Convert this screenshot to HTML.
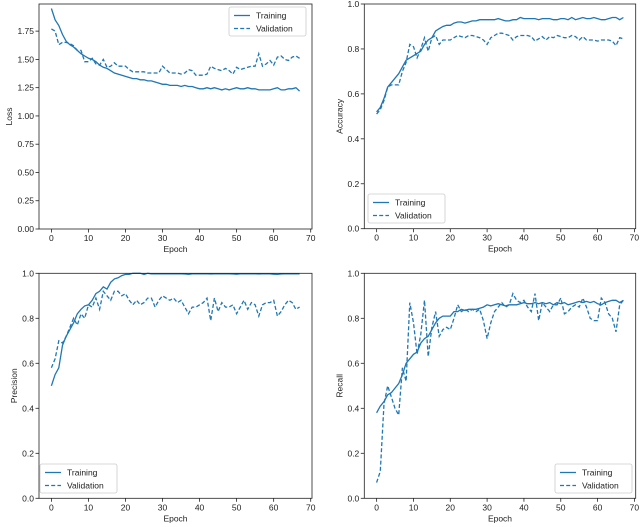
<!DOCTYPE html>
<html><head><meta charset="utf-8"><style>
body{margin:0;background:#fff}
svg{display:block;font-family:"Liberation Sans","DejaVu Sans",sans-serif}
</style></head><body>
<svg id="fig" width="640" height="527" viewBox="0 0 640 527"></svg>
<script>
const epochs = Array.from({length:68},(_,i)=>i);
const xTicks = [0,10,20,30,40,50,60,70];
const lossTicks = [0,0.25,0.5,0.75,1.0,1.25,1.5,1.75];
const unitTicks = [0,0.2,0.4,0.6,0.8,1.0];
const lossTrain = [1.95,1.85,1.80,1.72,1.66,1.63,1.61,1.58,1.55,1.53,1.51,1.50,1.48,1.45,1.43,1.42,1.40,1.38,1.37,1.36,1.35,1.34,1.33,1.33,1.32,1.32,1.31,1.31,1.30,1.29,1.28,1.28,1.27,1.27,1.27,1.26,1.27,1.26,1.26,1.25,1.24,1.24,1.25,1.24,1.25,1.24,1.23,1.24,1.23,1.24,1.25,1.24,1.24,1.25,1.24,1.24,1.23,1.23,1.23,1.23,1.24,1.25,1.23,1.23,1.24,1.24,1.25,1.22];
const lossVal = [1.77,1.75,1.63,1.65,1.65,1.64,1.62,1.58,1.58,1.48,1.48,1.51,1.46,1.45,1.50,1.43,1.44,1.47,1.44,1.44,1.44,1.41,1.39,1.39,1.39,1.39,1.38,1.38,1.38,1.38,1.44,1.41,1.38,1.38,1.38,1.37,1.38,1.41,1.40,1.36,1.36,1.36,1.37,1.44,1.42,1.41,1.40,1.42,1.40,1.37,1.43,1.41,1.42,1.43,1.44,1.44,1.55,1.44,1.46,1.49,1.45,1.52,1.53,1.50,1.49,1.52,1.53,1.51];
const accTrain = [0.52,0.54,0.58,0.63,0.65,0.67,0.69,0.72,0.75,0.76,0.77,0.78,0.79,0.82,0.84,0.85,0.88,0.89,0.90,0.905,0.905,0.915,0.92,0.92,0.915,0.92,0.925,0.925,0.93,0.93,0.93,0.93,0.93,0.935,0.93,0.925,0.925,0.93,0.93,0.94,0.935,0.935,0.935,0.935,0.93,0.935,0.935,0.935,0.93,0.93,0.935,0.935,0.93,0.94,0.93,0.935,0.94,0.935,0.935,0.94,0.935,0.93,0.93,0.935,0.94,0.94,0.93,0.94];
const accVal = [0.51,0.53,0.57,0.63,0.64,0.64,0.64,0.70,0.74,0.82,0.81,0.76,0.80,0.85,0.79,0.85,0.86,0.82,0.84,0.84,0.84,0.85,0.86,0.855,0.85,0.86,0.86,0.855,0.85,0.84,0.82,0.85,0.86,0.87,0.87,0.865,0.86,0.84,0.855,0.86,0.86,0.86,0.855,0.835,0.845,0.855,0.84,0.855,0.85,0.86,0.855,0.85,0.85,0.86,0.855,0.84,0.855,0.84,0.84,0.84,0.835,0.84,0.84,0.84,0.835,0.815,0.85,0.845];
const precTrain = [0.50,0.55,0.58,0.68,0.72,0.75,0.78,0.82,0.84,0.855,0.86,0.88,0.91,0.92,0.94,0.93,0.96,0.975,0.98,0.99,0.995,0.995,1.0,1.0,1.0,0.995,1.0,0.998,0.998,0.998,0.998,0.998,0.998,0.998,0.998,0.998,0.997,0.995,0.998,0.998,0.998,0.998,0.998,0.997,0.998,0.998,0.998,0.998,0.998,0.997,0.996,0.998,0.998,0.998,0.998,0.998,0.997,0.998,0.998,0.998,0.996,0.995,0.997,0.998,0.998,0.998,0.998,0.998];
const precVal = [0.58,0.62,0.70,0.69,0.72,0.76,0.80,0.77,0.82,0.80,0.86,0.85,0.89,0.84,0.92,0.90,0.88,0.92,0.92,0.90,0.91,0.88,0.86,0.88,0.86,0.87,0.89,0.89,0.85,0.88,0.90,0.89,0.88,0.89,0.87,0.88,0.85,0.82,0.85,0.85,0.86,0.87,0.89,0.79,0.89,0.83,0.87,0.85,0.85,0.86,0.82,0.85,0.88,0.84,0.87,0.86,0.81,0.86,0.87,0.87,0.88,0.81,0.83,0.86,0.88,0.87,0.84,0.85];
const recTrain = [0.38,0.41,0.43,0.46,0.47,0.49,0.51,0.55,0.60,0.62,0.64,0.65,0.69,0.71,0.72,0.75,0.78,0.80,0.81,0.81,0.81,0.83,0.83,0.84,0.835,0.84,0.84,0.84,0.845,0.85,0.86,0.855,0.86,0.865,0.86,0.855,0.86,0.86,0.86,0.865,0.87,0.865,0.865,0.87,0.865,0.87,0.865,0.87,0.86,0.87,0.865,0.87,0.86,0.865,0.87,0.875,0.87,0.875,0.87,0.875,0.865,0.86,0.87,0.875,0.88,0.88,0.87,0.88];
const recVal = [0.07,0.12,0.42,0.50,0.45,0.40,0.37,0.58,0.52,0.87,0.78,0.64,0.73,0.88,0.63,0.76,0.83,0.72,0.75,0.76,0.75,0.80,0.86,0.83,0.84,0.83,0.84,0.83,0.84,0.79,0.71,0.78,0.83,0.85,0.87,0.85,0.86,0.91,0.88,0.87,0.88,0.85,0.83,0.91,0.79,0.87,0.85,0.83,0.86,0.86,0.89,0.82,0.83,0.85,0.86,0.85,0.89,0.85,0.80,0.79,0.79,0.89,0.87,0.82,0.80,0.74,0.86,0.88];

const NS="http://www.w3.org/2000/svg";
const fig=document.getElementById('fig');
const C="#1f77b4";
function mk(tag,attrs,parent){const e=document.createElementNS(NS,tag);for(const k in attrs)e.setAttribute(k,attrs[k]);(parent||fig).appendChild(e);return e;}

function panel(key,box,yMax,yTicks,fmt,yLabel,train,val,legend){
  const g=mk('g',{});
  
  
  const xmin=-3.35,xmax=70.35;
  const sx=v=>box.l+(v-xmin)/(xmax-xmin)*(box.r-box.l);
  const sy=v=>box.b-(v/yMax)*(box.b-box.t);
  // lines
  [[train,null,'training-line'],[val,'4,2.2','validation-line']].forEach(([d,dash,nm])=>{
    const p=mk('polyline',{points:epochs.map((e,i)=>sx(e).toFixed(1)+','+sy(d[i]).toFixed(1)).join(' '),fill:'none',stroke:C,'stroke-width':1.3},g);
    if(dash)p.setAttribute('stroke-dasharray',dash);
    
    
  });
  // frame
  const fr=mk('rect',{x:box.l,y:box.t,width:box.r-box.l,height:box.b-box.t,fill:'none',stroke:'#222','stroke-width':0.8},g);
  
  
  xTicks.forEach(t=>{
    const x=sx(t);
    mk('line',{x1:x,x2:x,y1:box.b,y2:box.b+3.5,stroke:'#222','stroke-width':0.8},g);
    const tx=mk('text',{x:x,y:box.b+12,'font-size':8.5,'text-anchor':'middle',fill:'#222'},g);
    tx.textContent=t;
    
    
  });
  yTicks.forEach(t=>{
    const y=sy(t);
    mk('line',{x1:box.l-3.5,x2:box.l,y1:y,y2:y,stroke:'#222','stroke-width':0.8},g);
    const tx=mk('text',{x:box.l-5,y:y+3,'font-size':8.5,'text-anchor':'end',fill:'#222'},g);
    tx.textContent=t.toFixed(fmt);
    
    
  });
  const xl=mk('text',{x:(box.l+box.r)/2,y:box.b+23,'font-size':8.5,'text-anchor':'middle',fill:'#222'},g);
  xl.textContent='Epoch';
  
  
  const yx=box.l-(fmt===2?27:22), yy=(box.t+box.b)/2;
  const yl=mk('text',{x:yx,y:yy,'font-size':8.5,'text-anchor':'middle',fill:'#222',transform:`rotate(-90 ${yx} ${yy})`},g);
  yl.textContent=yLabel;
  
  
  // legend
  const lg=mk('g',{},g);
  
  
  mk('rect',{x:legend.x,y:legend.y,width:77,height:29,rx:2,fill:'#fff','fill-opacity':0.85,stroke:'#ccc','stroke-width':0.8},lg);
  [['Training',null],['Validation','4,2.2']].forEach(([lab,dash],i)=>{
    const y=legend.y+8.5+i*13;
    const ln=mk('line',{x1:legend.x+5,x2:legend.x+21,y1:y,y2:y,stroke:C,'stroke-width':1.3},lg);
    if(dash)ln.setAttribute('stroke-dasharray',dash);
    const t=mk('text',{x:legend.x+27,y:y+3,'font-size':8.5,fill:'#222'},lg);
    t.textContent=lab;
    
    
  });
}
panel('loss',{l:39,r:312,t:4,b:229},1.99,lossTicks,2,'Loss',lossTrain,lossVal,{x:229,y:7});
panel('accuracy',{l:364.3,r:635.7,t:4,b:228.7},1.0,unitTicks,1,'Accuracy',accTrain,accVal,{x:368,y:194});
panel('precision',{l:39,r:312,t:273.3,b:498.3},1.0,unitTicks,1,'Precision',precTrain,precVal,{x:40,y:464});
panel('recall',{l:364.3,r:635.7,t:273.3,b:498.3},1.0,unitTicks,1,'Recall',recTrain,recVal,{x:555,y:464});
</script>
</body></html>
